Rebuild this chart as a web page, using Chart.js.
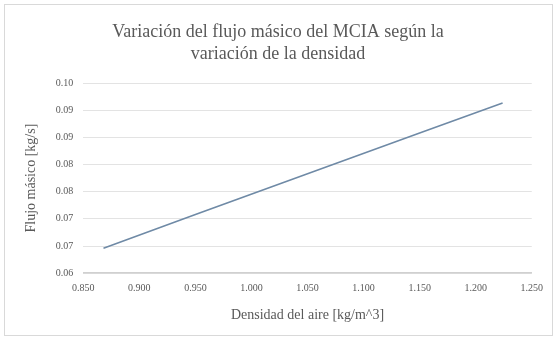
<!DOCTYPE html>
<html>
<head>
<meta charset="utf-8">
<script src="https://cdn.jsdelivr.net/npm/chart.js@4/dist/chart.umd.min.js"></script>
<style>
	html, body { margin: 0; padding: 0; background: #fff; }
	#wrap { position: absolute; left: 4px; top: 4px; width: 549px; height: 332px; border: 1px solid #d9d9d9; box-sizing: border-box; }
	canvas { display: block; }
</style>
</head>
<body>
<div id="wrap"><canvas id="grafico"></canvas></div>
<script>
// densidad del aire [kg/m^3] y flujo masico [kg/s]
var densidad = [0.868, 0.950, 1.050, 1.150, 1.224];
var flujo = [0.0646, 0.0708, 0.0783, 0.0858, 0.0913];
var yTickLabels = ["0.06", "0.07", "0.07", "0.08", "0.08", "0.09", "0.09", "0.10"];
var xTickLabels = ["0.850", "0.900", "0.950", "1.000", "1.050", "1.100", "1.150", "1.200", "1.250"];

var puntos = [];
for (var i in densidad) {
	puntos.push({ x: densidad[i], y: flujo[i] });
}

var fuente = "'Liberation Serif', 'DejaVu Serif', serif";
var gris = '#595959';

var ctx = document.getElementById('grafico');
new Chart(ctx, {
	type: 'line',
	data: {
		datasets: [{
			label: 'Flujo',
			data: puntos,
			borderColor: '#6f8aa6',
			borderWidth: 1.6,
			pointRadius: 0,
			fill: false,
			tension: 0
		}]
	},
	options: {
		responsive: true,
		maintainAspectRatio: false,
		animation: false,
		layout: { padding: { left: 14, right: 15, top: 6, bottom: 7 } },
		plugins: {
			legend: { display: false },
			tooltip: { enabled: false },
			title: {
				display: true,
				text: ['Variación del flujo másico del MCIA según la', 'variación de la densidad'],
				color: gris,
				font: { family: fuente, size: 18, weight: 'normal', lineHeight: 1.25 },
				padding: { top: 10, bottom: 17 }
			}
		},
		scales: {
			x: {
				type: 'linear',
				min: 0.85,
				max: 1.25,
				ticks: {
					stepSize: 0.05,
					color: gris,
					font: { family: fuente, size: 10 },
					padding: 9,
					callback: function(v, i) { return xTickLabels[i]; }
				},
				grid: { display: false, drawTicks: false },
				border: { display: true, color: '#d0d0d0', width: 1.5 },
				title: {
					display: true,
					text: 'Densidad del aire [kg/m^3]',
					color: gris,
					font: { family: fuente, size: 14 },
					padding: { top: 4 }
				}
			},
			y: {
				min: 0.06,
				max: 0.095,
				ticks: {
					stepSize: 0.005,
					color: gris,
					font: { family: fuente, size: 10 },
					padding: 10,
					callback: function(v, i) { return yTickLabels[i]; }
				},
				grid: { color: '#e3e3e3', drawTicks: false },
				border: { display: false },
				title: {
					display: true,
					text: 'Flujo másico [kg/s]',
					color: gris,
					font: { family: fuente, size: 14 },
					padding: { bottom: 6 }
				}
			}
		}
	}
});
</script>
</body>
</html>
